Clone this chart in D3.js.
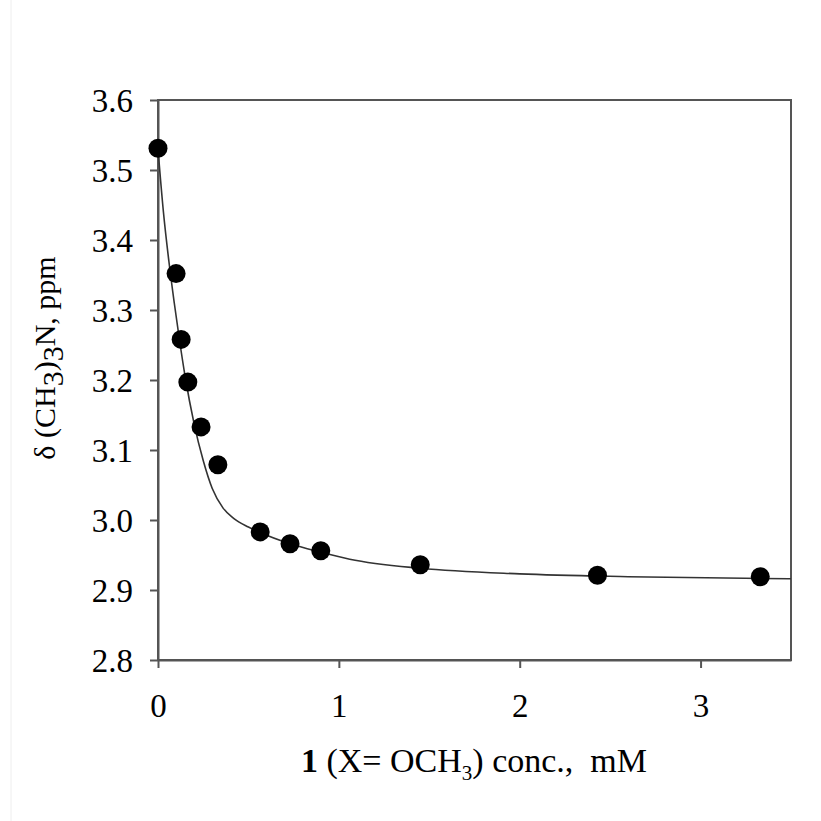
<!DOCTYPE html>
<html>
<head>
<meta charset="utf-8">
<script src="https://cdn.jsdelivr.net/npm/d3@7"></script>
<style>
  body { margin: 0; background: #fff; }
  text { font-family: 'Liberation Serif', 'Times New Roman', serif; fill: #000; }
</style>
</head>
<body>
<svg id="chart"></svg>
<script>
// measured points
const concX = [0, 0.1, 0.128, 0.165, 0.238, 0.331, 0.565, 0.73, 0.9, 1.45, 2.43, 3.33];
const shiftY = [3.531, 3.352, 3.258, 3.197, 3.133, 3.079, 2.983, 2.966, 2.956, 2.936, 2.921, 2.919];

// fitted curve
const fitX = [0, 0.03, 0.06, 0.09, 0.12, 0.15, 0.2, 0.25, 0.3, 0.36, 0.42, 0.5, 0.565, 0.73, 0.9, 1.06, 1.45, 2.0, 2.6, 3.5];
const fitY = [3.53, 3.44, 3.37, 3.31, 3.255, 3.205, 3.137, 3.085, 3.045, 3.017, 3.002, 2.99, 2.982, 2.966, 2.954, 2.944, 2.931, 2.923, 2.919, 2.916];

const xTicks = [0, 1, 2, 3];
const yTicks = [2.8, 2.9, 3.0, 3.1, 3.2, 3.3, 3.4, 3.5, 3.6];

const WIDTH = 821, HEIGHT = 821;
const MARGINS = { top: 100, left: 158, right: 30, bottom: 161 };
const AXIS_COLOR = '#555';
const SERIF = "'Liberation Serif', 'Times New Roman', serif";

const svg = d3.select('#chart').attr('width', WIDTH).attr('height', HEIGHT);

// faint edge line seen at the left of the picture
svg.append('line')
  .attr('x1', 11).attr('x2', 11).attr('y1', 0).attr('y2', HEIGHT)
  .attr('stroke', '#eee').attr('stroke-width', 1);

const x = d3.scaleLinear().domain([0, 3.5]).range([MARGINS.left, WIDTH - MARGINS.right]);
const y = d3.scaleLinear().domain([2.8, 3.6]).range([HEIGHT - MARGINS.bottom, MARGINS.top]);

// frame
svg.append('rect')
  .attr('x', x(0)).attr('y', y(3.6))
  .attr('width', x(3.5) - x(0)).attr('height', y(2.8) - y(3.6))
  .attr('fill', 'none').attr('stroke', AXIS_COLOR).attr('stroke-width', 2);

const xAxis = svg.append('g')
  .attr('transform', `translate(0, ${y(2.8)})`)
  .call(d3.axisBottom(x).tickValues(xTicks).tickFormat(d3.format('d')).tickSize(8).tickSizeOuter(0));

const yAxis = svg.append('g')
  .attr('transform', `translate(${x(0)}, 0)`)
  .call(d3.axisLeft(y).tickValues(yTicks).tickFormat(d3.format('.1f')).tickSize(8).tickSizeOuter(0));

[xAxis, yAxis].forEach((g) => {
  g.attr('font-family', SERIF).attr('font-size', 33);
  g.select('.domain').attr('stroke', AXIS_COLOR).attr('stroke-width', 2);
  g.selectAll('.tick line').attr('stroke', AXIS_COLOR).attr('stroke-width', 2);
  g.selectAll('.tick text')
    .style('font-family', SERIF)
    .style('font-size', '33px')
    .attr('fill', '#000');
});
xAxis.selectAll('.tick text').attr('y', 57).attr('dy', 0);
yAxis.selectAll('.tick text').attr('x', -25).attr('dy', '0.35em');

// fitted line
const fit = fitX.map((d, i) => [d, fitY[i]]);
svg.append('path')
  .datum(fit)
  .attr('fill', 'none')
  .attr('stroke', '#333')
  .attr('stroke-width', 1.6)
  .attr('d', d3.line().x((d) => x(d[0])).y((d) => y(d[1])).curve(d3.curveMonotoneX));

// data points
svg.selectAll('.pt')
  .data(concX.map((d, i) => [d, shiftY[i]]))
  .enter()
  .append('circle')
  .attr('class', 'pt')
  .attr('cx', (d) => x(d[0]))
  .attr('cy', (d) => y(d[1]))
  .attr('r', 9.5)
  .attr('fill', '#000');

// x title
const xt = svg.append('text')
  .attr('x', 474)
  .attr('y', 772)
  .attr('text-anchor', 'middle')
  .style('font-size', '34px');
xt.append('tspan').attr('font-weight', 'bold').text('1');
xt.append('tspan').text(' (X= OCH');
xt.append('tspan').attr('dy', 8).style('font-size', '21px').text('3');
xt.append('tspan').attr('dy', -8).text(')\u00a0conc.,\u00a0\u00a0mM');

// y title
const yt = svg.append('text')
  .attr('transform', 'translate(55, 358) rotate(-90)')
  .attr('text-anchor', 'middle')
  .style('font-size', '30px');
yt.append('tspan').text('\u03b4 (CH');
yt.append('tspan').attr('dy', 8).text('3');
yt.append('tspan').attr('dy', -8).text(')');
yt.append('tspan').attr('dy', 8).text('3');
yt.append('tspan').attr('dy', -8).text('N, ppm');
</script>
</body>
</html>
